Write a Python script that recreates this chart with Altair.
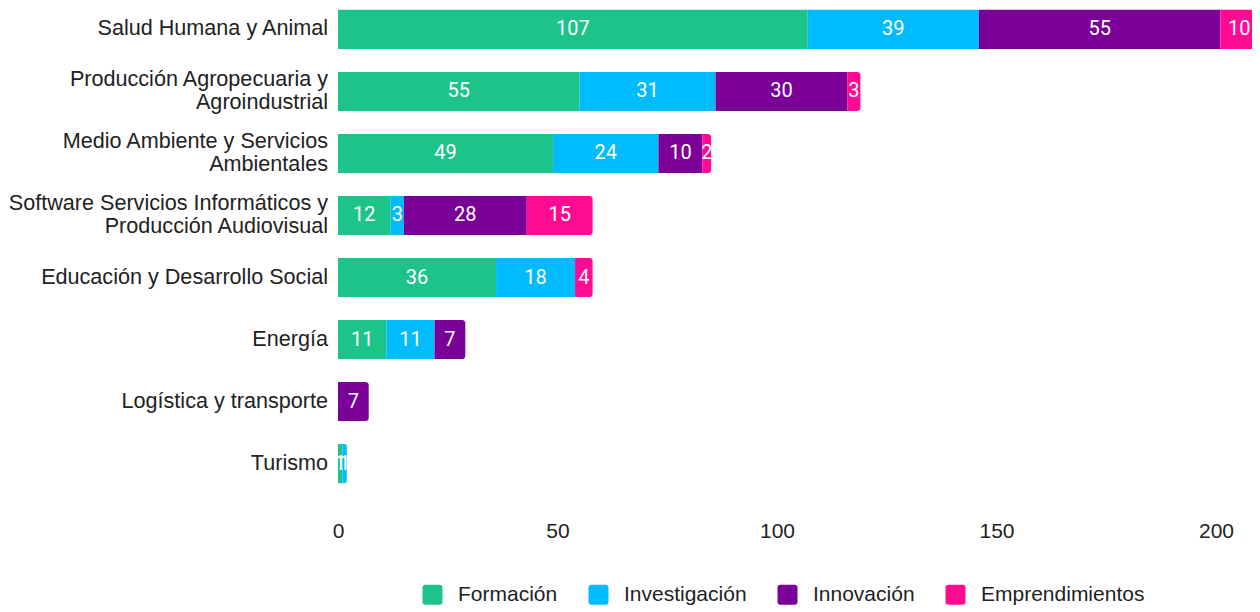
import altair as alt
import pandas as pd

categories = [
    "Salud Humana y Animal",
    "Producción Agropecuaria y|Agroindustrial",
    "Medio Ambiente y Servicios|Ambientales",
    "Software Servicios Informáticos y|Producción Audiovisual",
    "Educación y Desarrollo Social",
    "Energía",
    "Logística y transporte",
    "Turismo",
]
series = ["Formación", "Investigación", "Innovación", "Emprendimientos"]
formacion = [107, 55, 49, 12, 36, 11, 0, 1]
investigacion = [39, 31, 24, 3, 18, 11, 0, 1]
innovacion = [55, 30, 10, 28, 0, 7, 7, 0]
emprendimientos = [10, 3, 2, 15, 4, 0, 0, 0]
colors = ["#1DC48A", "#00BCFF", "#7B0097", "#FF0A92"]
x_ticks = [0, 50, 100, 150, 200]
X_MAX = 208.2

rows = []
for s_i, (s, vals) in enumerate(zip(series, [formacion, investigacion, innovacion, emprendimientos])):
    for c, v in zip(categories, vals):
        if v > 0:
            rows.append({"cat": c, "serie": s, "value": v, "ord": s_i})
df = pd.DataFrame(rows)

lab_rows = []
for c in categories:
    parts = c.split("|")
    lab_rows.append({"cat": c, "l1": parts[0], "l2": parts[1] if len(parts) > 1 else "",
                     "n": len(parts)})
labdf = pd.DataFrame(lab_rows)

AX_FONT = "Liberation Sans"
BAR_FONT = "Roboto"
TXT = "#222222"
LAB_SIZE = 21.6
xscale = alt.Scale(domain=[0, X_MAX], nice=False, zero=True)
yscale = alt.Scale(domain=categories, paddingInner=0.37, paddingOuter=0.03)

base = alt.Chart(df).transform_stack(
    stack="value", groupby=["cat"], as_=["x0", "x1"], sort=[alt.SortField("ord")]
).transform_joinaggregate(
    xmax="max(x1)", groupby=["cat"]
).transform_calculate(mid=f"min((datum.x0 + datum.x1) / 2, {X_MAX} - 2.9)")

color_enc = alt.Color(
    "serie:N", scale=alt.Scale(domain=series, range=colors),
    legend=alt.Legend(title=None, orient="none", direction="horizontal",
                      legendX=84, legendY=576, padding=0, labelLimit=400,
                      labelFontSize=21, labelFont=AX_FONT, labelColor=TXT,
                      symbolType="M-1,-0.7Q-1,-1,-0.7,-1L0.7,-1Q1,-1,1,-0.7L1,0.7Q1,1,0.7,1L-0.7,1Q-1,1,-1,0.7Z",
                      symbolSize=400, symbolStrokeWidth=0, symbolOpacity=1,
                      columnPadding=30, labelOffset=15),
)
y_enc = alt.Y("cat:N", scale=yscale, sort=categories, axis=None)
x_enc = alt.X("x0:Q", scale=xscale,
              axis=alt.Axis(title=None, values=x_ticks, domain=False, ticks=False, grid=False,
                            labelFontSize=21, labelFont=AX_FONT, labelColor=TXT,
                            labelPadding=35, labelFlush=False))

bars_mid = base.transform_filter("datum.x1 < datum.xmax").mark_bar(clip=True).encode(
    y=y_enc, x=x_enc, x2="x1:Q", color=color_enc)
bars_end = base.transform_filter("datum.x1 >= datum.xmax").mark_bar(
    clip=True, cornerRadiusTopRight=3, cornerRadiusBottomRight=3).encode(
    y=y_enc, x=x_enc, x2="x1:Q", color=color_enc)

labels = base.mark_text(color="white", fontSize=20, font=BAR_FONT).encode(
    y=y_enc, x=alt.X("mid:Q", scale=xscale), text="value:Q")

lab_base = alt.Chart(labdf)
single = lab_base.transform_filter("datum.n == 1").mark_text(
    align="right", baseline="middle", font=AX_FONT, fontSize=LAB_SIZE, color=TXT, dx=-10
).encode(y=y_enc, x=alt.value(0), text="l1:N")
top = lab_base.transform_filter("datum.n == 2").mark_text(
    align="right", baseline="middle", font=AX_FONT, fontSize=LAB_SIZE, color=TXT, dx=-10, dy=-11.5
).encode(y=y_enc, x=alt.value(0), text="l1:N")
bottom = lab_base.transform_filter("datum.n == 2").mark_text(
    align="right", baseline="middle", font=AX_FONT, fontSize=LAB_SIZE, color=TXT, dx=-10, dy=11.5
).encode(y=y_enc, x=alt.value(0), text="l2:N")

chart = alt.layer(bars_mid, bars_end, labels, single, top, bottom).properties(
    width=914, height=477,
    autosize=alt.AutoSizeParams(type="none"),
    padding={"left": 330, "top": 0, "right": 0, "bottom": 120},
).configure_view(stroke=None)

chart.save("out.html", embed_options={"renderer": "svg", "actions": False})
